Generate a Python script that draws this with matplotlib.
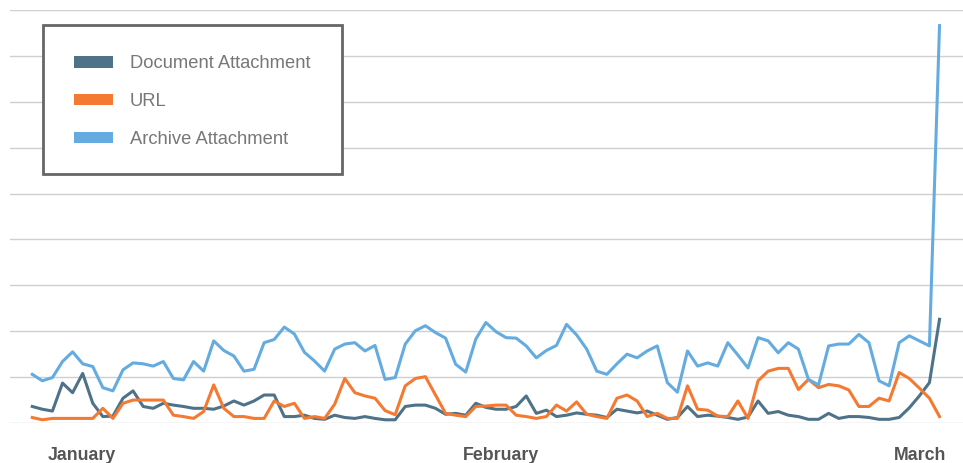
import matplotlib
matplotlib.use("Agg")
import matplotlib.pyplot as plt
from matplotlib.patches import Rectangle
import numpy as np

# daily message counts per attachment type
document = [36, 30, 26, 87, 66, 108, 43, 14, 15, 54, 70, 36, 32, 43, 39, 36, 32, 32, 30, 37,
            48, 39, 48, 61, 61, 14, 14, 17, 10, 8, 17, 12, 10, 14, 10, 7, 7, 36, 39, 39,
            32, 19, 21, 17, 43, 34, 30, 30, 36, 59, 21, 28, 14, 17, 22, 19, 17, 12, 30, 26,
            22, 26, 17, 8, 12, 36, 14, 17, 15, 12, 8, 13, 48, 21, 25, 17, 14, 8, 8, 21,
            10, 14, 14, 12, 8, 8, 12, 33, 59, 88, 226]
url = [12, 7, 10, 10, 10, 10, 10, 32, 10, 43, 50, 50, 50, 50, 17, 14, 10, 25, 83, 32,
       14, 14, 10, 10, 48, 36, 43, 10, 14, 10, 41, 97, 66, 59, 54, 27, 18, 81, 97, 101,
       61, 21, 17, 14, 36, 37, 39, 39, 17, 14, 10, 14, 39, 26, 46, 19, 14, 10, 54, 61,
       48, 14, 21, 10, 10, 81, 30, 28, 15, 14, 48, 10, 92, 113, 119, 119, 73, 95, 77, 84,
       81, 72, 36, 36, 54, 48, 110, 97, 76, 54, 14]
archive = [106, 92, 99, 134, 155, 129, 123, 77, 70, 116, 131, 129, 124, 134, 97, 94, 134, 113, 179, 158,
           146, 113, 117, 175, 182, 209, 194, 154, 135, 113, 161, 172, 175, 157, 169, 95, 99, 172, 201, 212,
           197, 185, 128, 111, 183, 219, 199, 186, 185, 168, 142, 158, 169, 215, 192, 161, 113, 106, 129, 150,
           142, 157, 168, 88, 67, 157, 124, 131, 124, 175, 148, 120, 186, 179, 153, 175, 161, 95, 83, 168,
           172, 172, 193, 175, 92, 81, 175, 190, 179, 168, 866]

series_names = ["Document Attachment", "URL", "Archive Attachment"]
colors = ["#4e7389", "#f47a32", "#64ace0"]
month_labels = ["January", "February", "March"]
month_pos = [4.9, 46.5, 88.1]

W, H = 963, 463
fig = plt.figure(figsize=(W / 100, H / 100), dpi=100)
ax = fig.add_axes([10 / W, 40 / H, (W - 10) / W, 413 / H])

x = np.arange(len(archive))
for vals, c, name in zip([document, url, archive], colors, series_names):
    ax.plot(x, vals, color=c, lw=2.2, label=name, zorder=3)

ax.set_xlim(-2.21, 92.33)
ax.set_ylim(0, 900)
ax.set_yticks(np.arange(0, 901, 100))
ax.yaxis.grid(True, color="#cfcfcf", lw=1.0, zorder=0)
ax.tick_params(axis="y", length=0, labelleft=False)
for s in ax.spines.values():
    s.set_visible(False)

ax.set_xticks(month_pos)
ax.set_xticklabels(month_labels, fontsize=12.8, fontweight="bold", color="#555555",
                   family=["Liberation Sans Narrow", "Liberation Sans"])
ax.tick_params(axis="x", length=0, pad=17)


# legend box drawn in pixel coordinates of the figure
def px(xp, yp):
    return xp / W, 1 - yp / H


x0, y0 = px(43, 174)
fig.patches.append(Rectangle((x0, y0), 299 / W, 149 / H, transform=fig.transFigure,
                             facecolor="white", edgecolor="#666666", lw=2.0, zorder=5))
for k, (name, c) in enumerate(zip(series_names, colors)):
    cy = 62 + 37.5 * k
    rx, ry = px(74, cy + 5.5)
    fig.patches.append(Rectangle((rx, ry), 39 / W, 11 / H, transform=fig.transFigure,
                                 facecolor=c, edgecolor="none", zorder=6))
    tx, ty = px(130, cy + 2)
    fig.text(tx, ty, name, fontsize=13.2, color="#777777", va="center", ha="left",
             family="Liberation Sans", zorder=7)

fig.savefig("out.png", dpi=100)
